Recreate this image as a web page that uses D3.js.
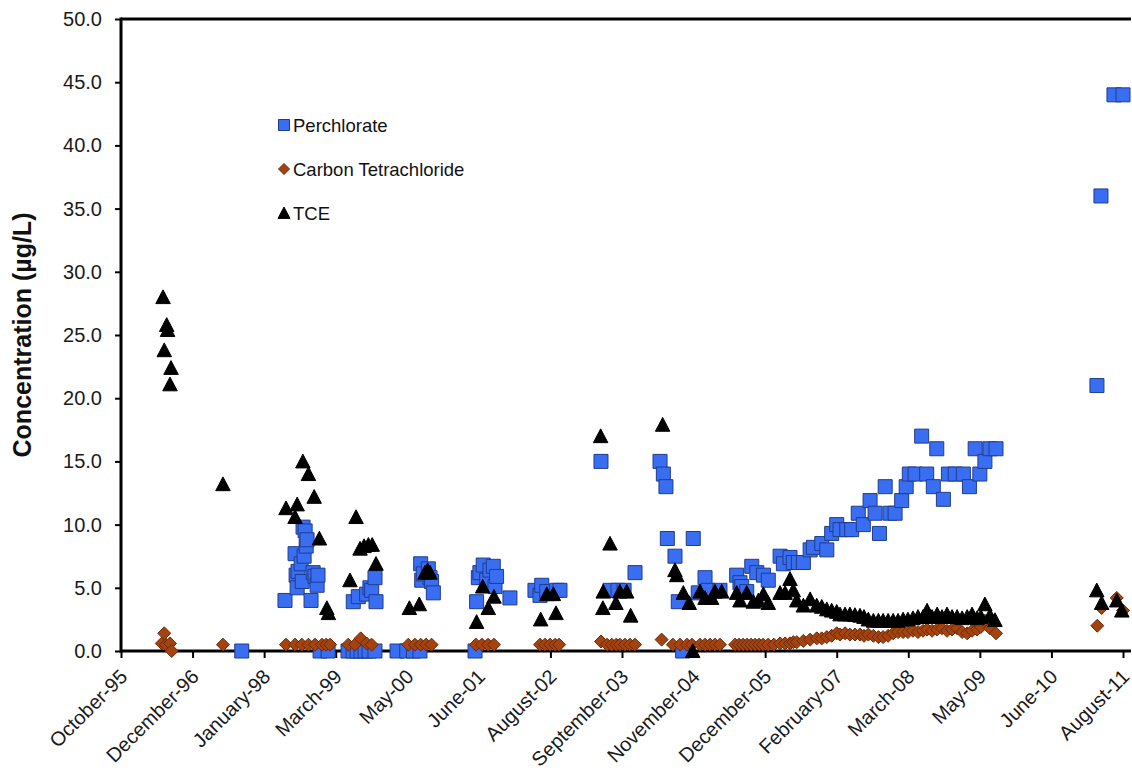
<!DOCTYPE html>
<html>
<head>
<meta charset="utf-8">
<script src="https://cdn.jsdelivr.net/npm/d3@7"></script>
<style>
  html, body { margin: 0; padding: 0; background: #ffffff; }
  svg { display: block; }
</style>
</head>
<body>
<svg id="chart" width="1132" height="772"></svg>
<script>
// Date axis: tick dates (equal spacing) and their month-year labels
const tickDates = ["1995-10-28","1996-12-13","1998-01-29","1999-03-17","2000-05-02","2001-06-18","2002-08-04","2003-09-20","2004-11-05","2005-12-22","2007-02-07","2008-03-25","2009-05-11","2010-06-27","2011-08-13"];
const tickLabels = ["October-95","December-96","January-98","March-99","May-00","June-01","August-02","September-03","November-04","December-05","February-07","March-08","May-09","June-10","August-11"];
const yTicks = [0, 5, 10, 15, 20, 25, 30, 35, 40, 45, 50];

// Sample results, µg/L: [sample date, concentration]
const perchlorate = [
  ["1997-09-22",0.0],
  ["1998-05-29",4.0],["1998-07-26",7.7],["1998-08-01",6.0],["1998-08-07",5.0],["1998-08-12",6.3],
  ["1998-08-30",6.9],["1998-09-05",5.5],["1998-09-10",9.8],["1998-09-16",7.5],["1998-09-22",9.5],
  ["1998-09-28",8.3],["1998-10-03",8.8],["1998-10-26",4.0],["1998-11-07",6.2],["1998-11-18",5.9],
  ["1998-11-30",5.2],["1998-12-05",6.0],["1998-12-17",0.0],["1999-02-01",0.0],
  ["1999-05-27",0.0],["1999-06-25",0.0],["1999-06-26",3.9],["1999-07-18",0.0],["1999-07-25",4.3],
  ["1999-08-10",0.0],["1999-09-02",0.0],["1999-09-11",4.5],["1999-09-25",0.0],["1999-09-30",5.0],
  ["1999-10-10",4.8],["1999-10-29",5.8],["1999-10-29",0.0],["1999-11-04",3.9],
  ["2000-03-04",0.0],["2000-04-29",0.0],["2000-06-06",0.0],["2000-07-14",0.0],
  ["2000-07-18",6.9],["2000-07-24",5.6],["2000-08-02",6.1],["2000-08-31",6.5],["2000-09-10",5.8],
  ["2000-09-19",5.5],["2000-09-29",4.6],
  ["2001-05-27",0.0],["2001-06-05",3.9],["2001-06-15",5.8],["2001-06-24",6.2],["2001-07-13",6.8],
  ["2001-08-02",5.6],["2001-08-21",6.4],["2001-09-09",6.7],["2001-09-19",5.1],["2001-09-28",5.9],
  ["2001-12-14",4.2],
  ["2002-05-07",4.8],["2002-06-05",4.4],["2002-06-15",5.2],["2002-07-14",4.7],["2002-09-09",4.8],
  ["2002-09-28",4.8],
  ["2003-05-22",15.0],["2003-07-13",4.8],["2003-08-28",4.8],["2003-10-02",4.8],["2003-12-04",6.2],
  ["2004-04-26",15.0],["2004-05-15",14.0],["2004-05-30",13.0],["2004-06-07",8.9],["2004-07-21",7.5],
  ["2004-08-09",3.9],["2004-09-03",0.0],["2004-11-03",8.9],["2004-12-02",4.6],
  ["2005-01-10",5.8],["2005-01-27",4.8],["2005-04-06",4.8],["2005-07-11",6.0],["2005-07-30",5.4],
  ["2005-08-09",5.1],["2005-09-07",4.7],["2005-10-06",6.7],["2005-11-04",6.2],["2005-12-12",6.0],
  ["2006-01-09",5.6],["2006-03-18",7.5],["2006-04-06",6.9],["2006-05-14",7.4],["2006-06-02",7.0],
  ["2006-07-01",7.0],["2006-07-30",7.0],["2006-09-07",8.0],["2006-09-26",8.2],["2006-11-13",8.5],
  ["2006-12-12",8.0],["2007-01-09",9.3],["2007-02-07",10.0],["2007-02-26",9.6],["2007-04-06",9.6],
  ["2007-05-04",9.6],["2007-06-11",10.9],["2007-07-10",10.0],["2007-08-18",11.9],["2007-09-16",10.9],
  ["2007-10-11",9.3],["2007-11-13",13.0],["2007-12-11",10.9],["2008-01-09",10.9],["2008-02-16",11.9],
  ["2008-03-13",13.0],["2008-03-31",14.0],["2008-05-03",14.0],["2008-06-10",17.0],["2008-07-09",14.0],
  ["2008-08-16",13.0],["2008-09-05",16.0],["2008-10-13",12.0],["2008-11-11",14.0],["2008-12-20",14.0],
  ["2009-02-05",14.0],["2009-03-12",13.0],["2009-04-14",16.0],["2009-05-11",14.0],["2009-06-09",15.0],
  ["2009-07-08",16.0],["2009-08-12",16.0],
  ["2011-03-16",21.0],["2011-04-08",36.0],["2011-06-22",44.0],["2011-08-13",44.0]
];

const carbonTetrachloride = [
  ["1996-06-19",0.6],["1996-07-03",1.4],["1996-07-13",0.5],["1996-08-05",0.6],["1996-08-15",0.0],
  ["1997-06-06",0.5],
  ["1998-06-04",0.5],["1998-07-26",0.5],["1998-09-03",0.5],["1998-10-11",0.5],["1998-11-18",0.5],
  ["1998-12-28",0.5],["1999-01-21",0.5],["1999-02-13",0.5],
  ["1999-05-28",0.5],["1999-07-06",0.5],["1999-08-08",1.0],["1999-09-11",0.6],["1999-10-10",0.5],
  ["2000-05-08",0.5],["2000-06-15",0.5],["2000-07-18",0.5],["2000-08-18",0.5],["2000-09-19",0.5],
  ["2001-06-01",0.5],["2001-07-06",0.5],["2001-08-10",0.5],["2001-09-13",0.5],
  ["2002-06-05",0.5],["2002-07-04",0.5],["2002-08-02",0.5],["2002-08-31",0.5],["2002-09-23",0.5],
  ["2003-05-22",0.75],["2003-06-26",0.5],["2003-07-23",0.5],["2003-08-18",0.5],["2003-09-08",0.5],
  ["2003-10-07",0.5],["2003-11-05",0.5],["2003-12-04",0.5],
  ["2004-05-05",0.9],["2004-07-09",0.5],["2004-08-19",0.5],["2004-09-28",0.5],["2004-10-27",0.5],
  ["2004-12-12",0.5],["2005-01-10",0.5],["2005-02-08",0.5],["2005-03-08",0.5],["2005-04-06",0.5],
  ["2005-07-02",0.5],["2005-07-25",0.5],["2005-08-17",0.5],["2005-09-09",0.5],["2005-10-02",0.5],
  ["2005-10-25",0.5],["2005-11-17",0.5],["2005-12-10",0.5],["2006-01-08",0.5],["2006-02-10",0.5],
  ["2006-03-18",0.6],["2006-04-16",0.6],["2006-05-14",0.6],["2006-06-02",0.7],["2006-06-22",0.7],
  ["2006-07-30",0.8],["2006-09-07",0.9],["2006-10-15",1.0],["2006-11-13",1.0],["2006-12-12",1.1],
  ["2007-01-09",1.2],["2007-02-07",1.4],["2007-02-26",1.3],["2007-03-27",1.4],["2007-04-24",1.3],
  ["2007-05-23",1.3],["2007-06-21",1.3],["2007-07-14",1.2],["2007-08-08",1.3],["2007-09-06",1.2],
  ["2007-10-05",1.1],["2007-11-01",1.1],["2007-11-30",1.2],["2007-12-29",1.4],["2008-01-26",1.5],
  ["2008-02-24",1.5],["2008-03-23",1.5],["2008-04-21",1.6],["2008-05-20",1.5],["2008-06-18",1.6],
  ["2008-07-11",1.7],["2008-08-09",1.6],["2008-09-07",1.7],["2008-10-05",1.8],["2008-11-03",1.6],
  ["2008-12-02",1.7],["2008-12-31",1.8],["2009-01-29",1.5],["2009-02-27",1.4],["2009-03-27",1.6],
  ["2009-04-25",1.7],["2009-05-17",1.9],["2009-06-09",2.4],["2009-07-08",1.8],["2009-08-12",1.4],
  ["2011-03-18",2.0],["2011-04-12",3.4],["2011-07-08",4.2],["2011-08-13",3.2]
];

const tce = [
  ["1996-06-26",28.0],["1996-07-03",23.8],["1996-07-17",25.8],["1996-07-22",25.4],["1996-08-05",21.1],
  ["1996-08-11",22.4],
  ["1997-06-06",13.2],
  ["1998-06-04",11.3],["1998-07-26",10.6],["1998-08-07",11.6],["1998-09-09",15.0],["1998-10-11",14.0],
  ["1998-11-13",12.2],["1998-12-13",8.9],["1999-01-25",3.4],["1999-02-03",3.0],
  ["1999-06-07",5.6],["1999-07-12",10.6],["1999-08-04",8.1],["1999-08-27",8.3],["1999-09-21",8.4],
  ["1999-10-13",8.4],["1999-11-04",6.9],
  ["2000-05-14",3.4],["2000-07-10",3.7],["2000-08-12",6.2],["2000-08-27",6.4],["2000-09-10",6.2],
  ["2001-06-05",2.3],["2001-07-10",5.1],["2001-08-11",3.4],["2001-09-13",4.3],
  ["2002-06-09",2.5],["2002-07-14",4.5],["2002-08-21",4.5],["2002-09-05",3.0],
  ["2003-05-20",17.0],["2003-06-02",3.4],["2003-06-04",4.7],["2003-07-13",8.5],["2003-08-16",3.8],
  ["2003-09-08",4.7],["2003-10-17",4.7],["2003-11-09",2.8],
  ["2004-05-11",17.9],["2004-07-21",6.4],["2004-07-31",6.0],["2004-09-07",4.6],["2004-10-11",3.8],
  ["2004-10-31",0.0],["2004-12-12",4.7],["2005-01-10",4.2],["2005-02-17",4.2],["2005-03-08",4.7],
  ["2005-04-16",4.7],["2005-07-11",4.6],["2005-07-30",4.0],["2005-09-07",4.6],["2005-10-15",3.9],
  ["2005-11-13",4.0],["2005-12-12",4.5],["2006-01-09",3.8],
  ["2006-03-18",4.6],["2006-04-16",4.6],["2006-05-14",5.7],["2006-06-02",4.8],["2006-06-22",4.0],
  ["2006-07-30",3.6],["2006-09-07",4.1],["2006-10-15",3.6],["2006-11-13",3.5],["2006-12-12",3.3],
  ["2007-01-09",3.2],["2007-02-07",3.1],["2007-02-26",2.9],["2007-03-27",2.9],["2007-04-24",2.9],
  ["2007-05-23",2.85],["2007-06-21",2.8],["2007-07-14",2.7],["2007-08-08",2.5],["2007-09-06",2.4],
  ["2007-10-05",2.4],["2007-11-01",2.4],["2007-11-30",2.4],["2007-12-29",2.4],["2008-01-26",2.4],
  ["2008-02-24",2.5],["2008-03-23",2.5],["2008-04-21",2.6],["2008-05-20",2.7],["2008-06-18",2.7],
  ["2008-07-11",3.2],["2008-08-09",2.7],["2008-09-07",2.9],["2008-10-05",2.7],["2008-11-03",2.9],
  ["2008-12-02",2.7],["2008-12-31",2.7],["2009-01-29",2.6],["2009-02-27",2.7],["2009-03-27",2.9],
  ["2009-04-25",2.6],["2009-05-17",2.7],["2009-06-09",3.7],["2009-07-08",2.8],["2009-08-06",2.45],
  ["2011-03-15",4.8],["2011-04-12",3.8],["2011-07-08",4.0],["2011-08-06",3.2]
];

const seriesNames = ["Perchlorate", "Carbon Tetrachloride", "TCE"];

// ---- layout ----
const svg = d3.select("#chart");
const plotLeft = 121, plotRight = 1123, plotTop = 19, plotBottom = 651, axisEnd = 1131;
const parse = d3.utcParse("%Y-%m-%d");
const FONT = "'Liberation Sans', Arial, Helvetica, sans-serif";

const x = d3.scaleUtc()
  .domain([parse(tickDates[0]), parse(tickDates[tickDates.length - 1])])
  .range([plotLeft, plotRight]);
const y = d3.scaleLinear().domain([0, 50]).range([plotBottom, plotTop]);

// marker shapes (centered on the point)
const markers = {
  square: s => `M${-s/2},${-s/2}h${s}v${s}h${-s}Z`,
  diamond: s => `M0,${-s/2}L${s/2},0L0,${s/2}L${-s/2},0Z`,
  triangle: s => `M0,${-s*0.5}L${s*0.5},${s*0.45}L${-s*0.5},${s*0.45}Z`
};
const styles = [
  { data: perchlorate, shape: "square", size: 14, fill: "#3a6ef2", stroke: "#1f3c8e", legendSize: 11 },
  { data: carbonTetrachloride, shape: "diamond", size: 13, fill: "#a4430f", stroke: "#6a2a08", legendSize: 11 },
  { data: tce, shape: "triangle", size: 14.5, fill: "#000000", stroke: "#000000", legendSize: 12 }
];

// ---- y axis ----
const yAxis = d3.axisLeft(y).tickValues(yTicks).tickSize(6).tickPadding(13)
  .tickFormat(d3.format(".1f"));
const gy = svg.append("g").attr("transform", `translate(${plotLeft},0)`).call(yAxis);
gy.select(".domain").remove();
gy.selectAll(".tick line").attr("stroke", "#000").attr("stroke-width", 2);
gy.selectAll(".tick text")
  .attr("font-family", FONT).attr("font-size", 20).attr("fill", "#1a1a1a");

// ---- x axis ----
const xAxis = d3.axisBottom(x)
  .tickValues(tickDates.map(parse))
  .tickSize(7)
  .tickFormat((d, i) => tickLabels[i]);
const gx = svg.append("g").attr("transform", `translate(0,${plotBottom})`).call(xAxis);
gx.select(".domain").remove();
gx.selectAll(".tick line").attr("stroke", "#000").attr("stroke-width", 2);
gx.selectAll(".tick text")
  .attr("font-family", FONT).attr("font-size", 20).attr("fill", "#1a1a1a")
  .attr("text-anchor", "end")
  .attr("dy", null).attr("y", 0)
  .attr("transform", "translate(7,27) rotate(-45)");

// axis lines and top border
svg.append("line").attr("x1", plotLeft).attr("x2", plotLeft).attr("y1", plotTop - 1.5).attr("y2", plotBottom + 1.5)
  .attr("stroke", "#000").attr("stroke-width", 3);
svg.append("line").attr("x1", plotLeft).attr("x2", axisEnd).attr("y1", plotBottom).attr("y2", plotBottom)
  .attr("stroke", "#000").attr("stroke-width", 3);
svg.append("line").attr("x1", plotLeft).attr("x2", axisEnd).attr("y1", plotTop).attr("y2", plotTop)
  .attr("stroke", "#000").attr("stroke-width", 3);

// ---- y axis title ----
svg.append("text")
  .attr("transform", `translate(31,${(plotTop + plotBottom) / 2}) rotate(-90)`)
  .attr("text-anchor", "middle")
  .attr("font-family", FONT).attr("font-size", 25).attr("font-weight", "bold").attr("fill", "#111")
  .text("Concentration (µg/L)");

// ---- data markers ----
styles.forEach(st => {
  svg.append("g").selectAll("path").data(st.data).join("path")
    .attr("d", markers[st.shape](st.size))
    .attr("transform", d => `translate(${x(parse(d[0]))},${y(d[1])})`)
    .attr("fill", st.fill).attr("stroke", st.stroke).attr("stroke-width", 1);
});

// ---- legend ----
const legend = svg.append("g").attr("transform", "translate(284,125)");
styles.forEach((st, i) => {
  const row = legend.append("g").attr("transform", `translate(0,${i * 44})`);
  row.append("path").attr("d", markers[st.shape](st.legendSize))
    .attr("fill", st.fill).attr("stroke", st.stroke).attr("stroke-width", 1);
  row.append("text").attr("x", 9).attr("y", 6.5)
    .attr("font-family", FONT).attr("font-size", 18.5).attr("fill", "#111")
    .text(seriesNames[i]);
});
</script>
</body>
</html>
